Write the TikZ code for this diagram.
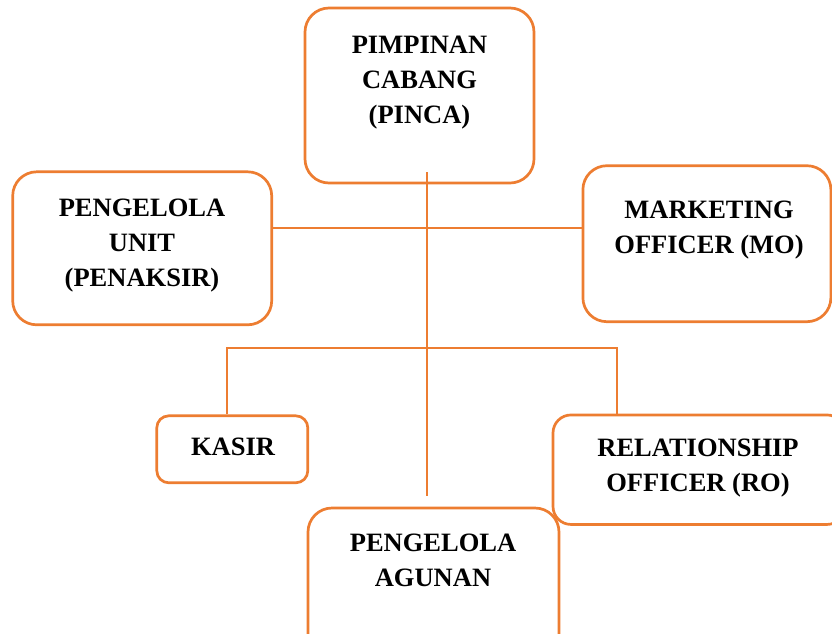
\documentclass[tikz,border=0pt]{standalone}
\usepackage{fontspec}
\setmainfont{Liberation Serif}
\definecolor{org}{HTML}{ED7D31}
\begin{document}
\begin{tikzpicture}[x=1pt,y=-1pt,
  box/.style={draw=org, line width=2.7pt, rounded corners=#1, inner sep=0pt, fill=white},
  box/.default=24pt,
  lbl/.style={font=\fontsize{26.5}{35}\selectfont\bfseries, align=center, inner sep=0pt},
  conn/.style={draw=org, line width=2.8pt}]
\useasboundingbox (0,0) rectangle (832,633);
\clip (0,0) rectangle (832,633);

% boxes
\node[box, minimum width=229pt, minimum height=175pt] (pinca) at (419.5,95.5) {};
\node[box, minimum width=259pt, minimum height=153pt] (unit) at (142.2,248.3) {};
\node[box, minimum width=248pt, minimum height=156pt] (mo) at (706.9,243.7) {};
\node[box=12pt, minimum width=151pt, minimum height=67pt] (kasir) at (232.3,449.3) {};
\node[box=18pt, minimum width=292pt, minimum height=109.5pt] (ro) at (699,469.7) {};
\node[box, minimum width=251pt, minimum height=152pt] (agunan) at (433.5,584) {};

% connectors
\coordinate (top) at (427,172);
\coordinate (bot) at (427,496);
\coordinate (h1) at (427,228);
\coordinate (bl) at (227,348);
\coordinate (br) at (617,348);
\draw[conn] (top) -- (bot);
\draw[conn] (unit.east |- h1) -- (mo.west |- h1);
\draw[conn] (kasir.north -| bl) -- (bl) -- (br) -- (ro.north -| br);

% labels
\node[lbl] (tpinca) at (419.5,83) {PIMPINAN\\CABANG\\(PINCA)};
\node[lbl] (tunit) at (142,246) {PENGELOLA\\UNIT\\(PENAKSIR)};
\node[lbl] (tmo) at (709,230) {MARKETING\\OFFICER (MO)};
\node[lbl] (tkasir) at (233,447) {KASIR};
\node[lbl] (tro) at (698,468) {RELATIONSHIP\\OFFICER (RO)};
\node[lbl] (tagunan) at (433,560) {PENGELOLA\\AGUNAN};
\end{tikzpicture}
\end{document}
